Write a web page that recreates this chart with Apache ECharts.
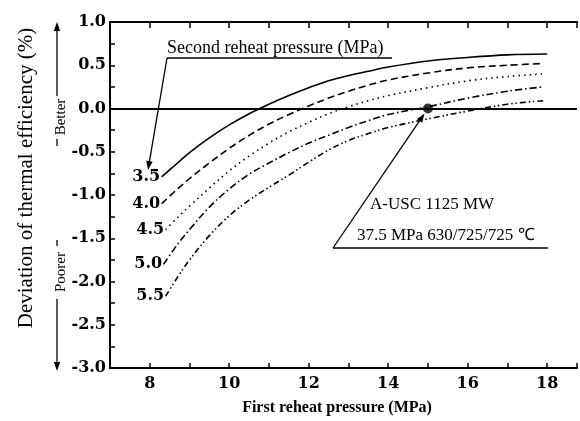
<!DOCTYPE html>
<html>
<head>
<meta charset="utf-8">
<script src="https://cdn.jsdelivr.net/npm/echarts@6/dist/echarts.min.js"></script>
<style>html,body{margin:0;background:#fff}#chart{width:580px;height:421px}</style>
</head>
<body>
<div id="chart"></div>
<script>
// second reheat pressure (MPa) for each curve
var pressureLabels = ['3.5', '4.0', '4.5', '5.0', '5.5'];

// [first reheat pressure, deviation of efficiency]
var curve35 = [[8.3,-0.79],[8.7,-0.63],[9,-0.51],[9.5,-0.34],[10,-0.19],[10.5,-0.06],[11,0.05],[11.5,0.15],[12,0.24],[12.5,0.32],[13,0.38],[13.5,0.43],[14,0.48],[15,0.55],[16,0.59],[17,0.62],[18,0.63]];
var curve40 = [[8.3,-1.1],[8.7,-0.93],[9,-0.81],[9.5,-0.63],[10,-0.46],[10.5,-0.31],[11,-0.18],[11.5,-0.07],[12,0.03],[12.5,0.12],[13,0.2],[13.5,0.27],[14,0.33],[15,0.41],[16,0.47],[17,0.5],[17.9,0.52]];
var curve45 = [[8.4,-1.4],[8.7,-1.26],[9,-1.13],[9.5,-0.92],[10,-0.72],[10.5,-0.55],[11,-0.4],[11.5,-0.27],[12,-0.16],[12.5,-0.06],[13,0.02],[13.5,0.09],[14,0.15],[15,0.24],[16,0.32],[17,0.37],[17.9,0.4]];
var curve50 = [[8.35,-1.8],[8.7,-1.57],[9,-1.4],[9.5,-1.14],[10,-0.93],[10.5,-0.76],[11,-0.63],[11.5,-0.51],[12,-0.4],[12.5,-0.31],[13,-0.22],[13.5,-0.14],[14,-0.07],[15,0.02],[16,0.12],[17,0.2],[17.9,0.25]];
var curve55 = [[8.4,-2.17],[8.7,-1.95],[9,-1.75],[9.5,-1.47],[10,-1.24],[10.5,-1.06],[11,-0.91],[11.5,-0.77],[12,-0.62],[12.5,-0.48],[13,-0.37],[13.5,-0.29],[14,-0.22],[15,-0.12],[16,-0.03],[17,0.05],[17.9,0.09]];

var designPoint = [15, 0];
var designText = ['A-USC 1125 MW', '37.5 MPa 630/725/725 \u2103'];

var curves = [curve35, curve40, curve45, curve50, curve55];
var dashes = ['solid', [7, 4], [1.5, 4], [7, 3, 1.5, 3], [6, 3, 1.5, 2.5, 1.5, 3]];

var numFont = '"DejaVu Serif"';
var txtFont = '"Liberation Serif"';

var dom = document.getElementById('chart');
var myChart = echarts.init(dom);

var series = curves.map(function (c, i) {
    var s = {
        type: 'line',
        data: c,
        smooth: 0.35,
        symbol: 'none',
        silent: true,
        lineStyle: {color: '#000', width: 1.6, type: dashes[i]},
        markPoint: {
            symbol: 'circle',
            symbolSize: 1,
            itemStyle: {color: 'rgba(0,0,0,0)'},
            label: {
                show: true, position: 'left', distance: 1,
                formatter: pressureLabels[i],
                color: '#000', fontFamily: numFont, fontWeight: 'bold', fontSize: 16
            },
            data: [{coord: c[0]}]
        }
    };
    if (i == 0) {
        s.markLine = {
            silent: true, symbol: 'none',
            label: {show: false},
            lineStyle: {color: '#000', width: 2, type: 'solid'},
            data: [{yAxis: 0}]
        };
    }
    return s;
});
series.push({
    type: 'scatter',
    data: [designPoint],
    symbolSize: 10,
    silent: true,
    itemStyle: {color: '#000'}
});

option = {
    animation: false,
    grid: {left: 110, right: 0, top: 22, bottom: 53},
    xAxis: [{
        type: 'value', min: 7, max: 18.75, interval: 1,
        axisLine: {onZero: false, lineStyle: {color: '#000', width: 2}},
        axisTick: {inside: true, length: 5, lineStyle: {color: '#000', width: 1.5}},
        axisLabel: {
            margin: 8, color: '#000', fontFamily: numFont, fontWeight: 'bold', fontSize: 16,
            formatter: function (v) { return v % 2 === 0 ? v : ''; }
        },
        splitLine: {show: false}
    }, {
        type: 'value', position: 'top', min: 7, max: 18.75, interval: 1,
        axisLine: {show: true, onZero: false, lineStyle: {color: '#000', width: 2}},
        axisTick: {inside: true, length: 6, lineStyle: {color: '#000', width: 1.5}},
        axisLabel: {show: false},
        splitLine: {show: false}
    }],
    yAxis: {
        type: 'value', min: -3, max: 1, interval: 0.5,
        axisLine: {show: true, onZero: false, lineStyle: {color: '#000', width: 2}},
        axisTick: {show: true, inside: true, length: 5, lineStyle: {color: '#000', width: 1.5}},
        minorTick: {show: true, splitNumber: 2, length: 5, lineStyle: {color: '#000', width: 1.5}},
        axisLabel: {
            margin: 4, color: '#000', fontFamily: numFont, fontWeight: 'bold', fontSize: 16,
            formatter: function (v) { return v.toFixed(1); }
        },
        splitLine: {show: false}
    },
    series: series
};
myChart.setOption(option, true);

// arrow with a filled head at (x2, y2)
function arrowTo(x1, y1, x2, y2) {
    var a = Math.atan2(y2 - y1, x2 - x1), L = 9, W = 3.2;
    var bx = x2 - L * Math.cos(a), by = y2 - L * Math.sin(a);
    return [
        {type: 'line', silent: true, shape: {x1: x1, y1: y1, x2: bx, y2: by}, style: {stroke: '#000', lineWidth: 1.3}},
        {type: 'polygon', silent: true, shape: {points: [[x2, y2], [bx + W * Math.sin(a), by - W * Math.cos(a)], [bx - W * Math.sin(a), by + W * Math.cos(a)]]}, style: {fill: '#000'}}
    ];
}
function line(x1, y1, x2, y2, w) {
    return {type: 'line', silent: true, shape: {x1: x1, y1: y1, x2: x2, y2: y2}, style: {stroke: '#000', lineWidth: w || 1.3}};
}
function text(str, x, y, font, rot, align) {
    return {
        type: 'text', silent: true, x: x, y: y, rotation: rot || 0,
        style: {text: str, font: font, fill: '#000', align: align || 'center', verticalAlign: 'middle'}
    };
}

var dot = myChart.convertToPixel({gridIndex: 0}, designPoint);
var g = [];
g.push(text('Deviation of thermal efficiency (%)', 26, 178, '21px ' + txtFont, Math.PI / 2));
g.push(text('First reheat pressure (MPa)', 337, 408, 'bold 16px ' + txtFont, 0));
g.push(text('Better', 61, 117, '15px ' + txtFont, Math.PI / 2));
g = g.concat(arrowTo(57, 96, 57, 22));
g.push(line(57, 139, 57, 146));
g.push(text('Poorer', 61, 272, '15px ' + txtFont, Math.PI / 2));
g.push(line(57, 240, 57, 246));
g = g.concat(arrowTo(57, 299, 57, 371));
// second reheat label
g.push(text('Second reheat pressure (MPa)', 167, 48, '18px ' + txtFont, 0, 'left'));
g.push(line(167, 58, 392, 58));
g = g.concat(arrowTo(167, 58, 148, 170));
// design point
g.push(text(designText[0], 370, 205, '17px ' + txtFont, 0, 'left'));
g.push(text(designText[1], 357, 236, '17px ' + txtFont, 0, 'left'));
g.push(line(333, 248, 548, 248));
var ang = Math.atan2(248 - dot[1], 333 - dot[0]);
g = g.concat(arrowTo(333, 248, dot[0] + 6 * Math.cos(ang), dot[1] + 6 * Math.sin(ang)));
myChart.setOption({graphic: g});
</script>
</body>
</html>
